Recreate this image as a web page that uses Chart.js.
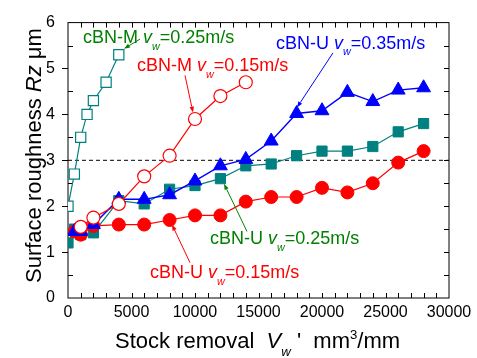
<!DOCTYPE html>
<html>
<head>
<meta charset="utf-8">
<script src="https://cdn.jsdelivr.net/npm/chart.js@4.4.1/dist/chart.umd.min.js"></script>
<style>
  html, body { margin: 0; padding: 0; background: #fff; }
  #wrap { width: 477px; height: 358px; }
</style>
</head>
<body>
<div id="wrap"><canvas id="rough"></canvas></div>
<script>
// cBN-M vw=0.25 (open teal squares)
const xMfast = [0, 500, 1000, 1500, 2000, 3000, 4000];
const yMfast = [2.0, 2.7, 3.5, 4.0, 4.3, 4.7, 5.3];
// cBN-M vw=0.15 (open red circles)
const xMslow = [1000, 2000, 4000, 6000, 8000, 10000, 12000, 14000];
const yMslow = [1.55, 1.75, 2.05, 2.65, 3.1, 3.9, 4.4, 4.7];
// cBN-U vw=0.35 (blue triangles)
const xU35 = [500, 1000, 2000, 4000, 6000, 8000, 10000, 12000, 14000, 16000, 18000, 20000, 22000, 24000, 26000, 28000];
const yU35 = [1.45, 1.45, 1.6, 2.15, 2.15, 2.25, 2.55, 2.88, 3.02, 3.42, 4.02, 4.08, 4.48, 4.28, 4.53, 4.58];
// cBN-U vw=0.25 (filled teal squares)
const xU25 = [0, 500, 1000, 2000, 4000, 6000, 8000, 10000, 12000, 14000, 16000, 18000, 20000, 22000, 24000, 26000, 28000];
const yU25 = [1.2, 1.5, 1.38, 1.42, 2.12, 2.05, 2.37, 2.45, 2.6, 2.88, 2.92, 3.1, 3.2, 3.2, 3.3, 3.62, 3.8];
// cBN-U vw=0.15 (filled red circles)
const xU15 = [500, 1000, 2000, 4000, 6000, 8000, 10000, 12000, 14000, 16000, 18000, 20000, 22000, 24000, 26000, 28000];
const yU15 = [1.45, 1.38, 1.57, 1.6, 1.6, 1.7, 1.8, 1.8, 2.1, 2.2, 2.2, 2.4, 2.3, 2.5, 2.95, 3.2];

const refX = [0, 30000];
const refY = [3, 3];

const xTicks = [0, 5000, 10000, 15000, 20000, 25000, 30000];
const yTicks = [0, 1, 2, 3, 4, 5, 6];

const TEAL = "#008080", GREEN = "#008000", RED = "#ff0000", BLUE = "#0000ff";
const FONT = "'Liberation Sans', Arial, sans-serif";

function pts(xs, ys) {
    return xs.map(function (x, i) { return { x: x, y: ys[i] }; });
}

// label text, anchor and arrow in data units
const notes = [
    { head: "cBN-M ", tail: "=0.25m/s", color: GREEN, at: [1181, 5.55], from: [5669, 5.64], to: [4409, 5.43] },
    { head: "cBN-M ", tail: "=0.15m/s", color: RED, at: [5433, 4.94], from: [9213, 4.85], to: [9843, 4.04] },
    { head: "cBN-U ", tail: "=0.35m/s", color: BLUE, at: [16378, 5.43], from: [20866, 5.34], to: [18031, 4.15] },
    { head: "cBN-U ", tail: "=0.25m/s", color: GREEN, at: [11181, 1.17], from: [14094, 1.45], to: [12283, 2.49] },
    { head: "cBN-U ", tail: "=0.15m/s", color: RED, at: [6457, 0.43], from: [9606, 0.77], to: [8189, 1.60] }
];

// draws a run of text pieces, each {t, it, sub, sup}
function richText(ctx, x, y, size, parts, color) {
    ctx.save();
    ctx.fillStyle = color;
    ctx.textBaseline = "alphabetic";
    ctx.textAlign = "left";
    parts.forEach(function (p) {
        let s = size, dy = 0;
        if (p.sub) { s = size * 0.6; dy = size * 0.36; }
        if (p.sup) { s = size * 0.6; dy = -size * 0.42; }
        ctx.font = (p.it ? "italic " : "") + s + "px " + FONT;
        ctx.fillText(p.t, x, y + dy);
        x += ctx.measureText(p.t).width;
    });
    ctx.restore();
}

function arrow(ctx, x1, y1, x2, y2, color) {
    const a = Math.atan2(y2 - y1, x2 - x1), L = 6, W = 2.2;
    ctx.save();
    ctx.strokeStyle = color;
    ctx.fillStyle = color;
    ctx.lineWidth = 1;
    ctx.beginPath();
    ctx.moveTo(x1, y1);
    ctx.lineTo(x2 - Math.cos(a) * L, y2 - Math.sin(a) * L);
    ctx.stroke();
    ctx.beginPath();
    ctx.moveTo(x2, y2);
    ctx.lineTo(x2 - Math.cos(a) * L - Math.sin(a) * W, y2 - Math.sin(a) * L + Math.cos(a) * W);
    ctx.lineTo(x2 - Math.cos(a) * L + Math.sin(a) * W, y2 - Math.sin(a) * L - Math.cos(a) * W);
    ctx.closePath();
    ctx.fill();
    ctx.restore();
}

const framePlugin = {
    id: "frame",
    beforeDatasetsDraw: function (chart) {
        const ctx = chart.ctx, a = chart.chartArea;
        const xs = chart.scales.x, ys = chart.scales.y;
        ctx.save();
        ctx.strokeStyle = "#000";
        ctx.lineWidth = 1;
        ctx.strokeRect(a.left, a.top, a.right - a.left, a.bottom - a.top);
        ctx.beginPath();
        for (let v = 1000; v < 30000; v += 1000) {
            const px = Math.round(xs.getPixelForValue(v)) + 0.5;
            ctx.moveTo(px, a.bottom); ctx.lineTo(px, a.bottom - 5);
            ctx.moveTo(px, a.top); ctx.lineTo(px, a.top + 5);
        }
        for (let v = 0.5; v < 6; v += 0.5) {
            const py = Math.round(ys.getPixelForValue(v)) + 0.5;
            if (v % 1 === 0) {
                ctx.moveTo(a.left, py); ctx.lineTo(a.left - 6, py);
            } else {
                ctx.moveTo(a.left, py); ctx.lineTo(a.left + 5, py);
            }
            ctx.moveTo(a.right, py); ctx.lineTo(a.right - 5, py);
        }
        ctx.stroke();
        ctx.restore();
    },
    afterDraw: function (chart) {
        const ctx = chart.ctx;
        const xs = chart.scales.x, ys = chart.scales.y;
        notes.forEach(function (n) {
            arrow(ctx, xs.getPixelForValue(n.from[0]), ys.getPixelForValue(n.from[1]),
                xs.getPixelForValue(n.to[0]), ys.getPixelForValue(n.to[1]), n.color);
            richText(ctx, xs.getPixelForValue(n.at[0]), ys.getPixelForValue(n.at[1]), 18, [
                { t: n.head }, { t: "v", it: true }, { t: "w", it: true, sub: true }, { t: n.tail }
            ], n.color);
        });
        // axis titles
        richText(ctx, 115, 348, 22, [
            { t: "Stock removal  " }, { t: "V", it: true }, { t: "w", it: true, sub: true },
            { t: " '  mm" }, { t: "3", sup: true }, { t: "/mm" }
        ], "#000");
        ctx.save();
        ctx.translate(41, 283);
        ctx.rotate(-Math.PI / 2);
        richText(ctx, 0, 0, 22, [
            { t: "Surface roughness " }, { t: "Rz", it: true }, { t: " \u03bcm" }
        ], "#000");
        ctx.restore();
    }
};

new Chart(document.getElementById("rough"), {
    type: "scatter",
    data: {
        datasets: [{
            label: "cBN-M vw=0.25m/s",
            data: pts(xMfast, yMfast),
            showLine: true, borderColor: TEAL, borderWidth: 1.2,
            pointStyle: "rect", pointRadius: 7.2, pointBackgroundColor: "#fff",
            pointBorderColor: TEAL, pointBorderWidth: 1.2
        }, {
            label: "cBN-M vw=0.15m/s",
            data: pts(xMslow, yMslow),
            showLine: true, borderColor: RED, borderWidth: 1.2,
            pointStyle: "circle", pointRadius: 6.5, pointBackgroundColor: "#fff",
            pointBorderColor: RED, pointBorderWidth: 1.2
        }, {
            label: "cBN-U vw=0.35m/s",
            data: pts(xU35, yU35),
            showLine: true, borderColor: BLUE, borderWidth: 1.4,
            pointStyle: "triangle", pointRadius: 8, pointBackgroundColor: BLUE,
            pointBorderColor: BLUE, pointBorderWidth: 1
        }, {
            label: "cBN-U vw=0.15m/s",
            data: pts(xU15, yU15),
            showLine: true, borderColor: RED, borderWidth: 1.2,
            pointStyle: "circle", pointRadius: 6.5, pointBackgroundColor: RED,
            pointBorderColor: RED, pointBorderWidth: 1
        }, {
            label: "cBN-U vw=0.25m/s",
            data: pts(xU25, yU25),
            showLine: true, borderColor: TEAL, borderWidth: 1.2,
            pointStyle: "rect", pointRadius: 7.2, pointBackgroundColor: TEAL,
            pointBorderColor: TEAL, pointBorderWidth: 1
        }, {
            label: "ref",
            data: pts(refX, refY),
            showLine: true, borderColor: "#000", borderWidth: 1, borderDash: [4, 3],
            pointRadius: 0
        }]
    },
    options: {
        responsive: true,
        maintainAspectRatio: false,
        animation: false,
        events: [],
        layout: { padding: { left: 0, right: 28, top: 16, bottom: 0 } },
        plugins: { legend: { display: false }, tooltip: { enabled: false } },
        scales: {
            x: {
                type: "linear", min: 0, max: 30000,
                afterFit: function (s) { s.height = 60; },
                afterBuildTicks: function (s) { s.ticks = xTicks.map(function (v) { return { value: v }; }); },
                grid: { display: false, drawTicks: false },
                border: { display: false },
                ticks: {
                    color: "#000", padding: 5, maxRotation: 0, font: { family: FONT, size: 16 },
                    callback: function (v) { return String(v); }
                }
            },
            y: {
                type: "linear", min: 0, max: 6,
                afterFit: function (s) { s.width = 68; },
                afterBuildTicks: function (s) { s.ticks = yTicks.map(function (v) { return { value: v }; }); },
                grid: { display: false, drawTicks: false },
                border: { display: false },
                ticks: {
                    color: "#000", padding: 13, font: { family: FONT, size: 16 },
                    callback: function (v) { return String(v); }
                }
            }
        }
    },
    plugins: [framePlugin]
});
</script>
</body>
</html>
